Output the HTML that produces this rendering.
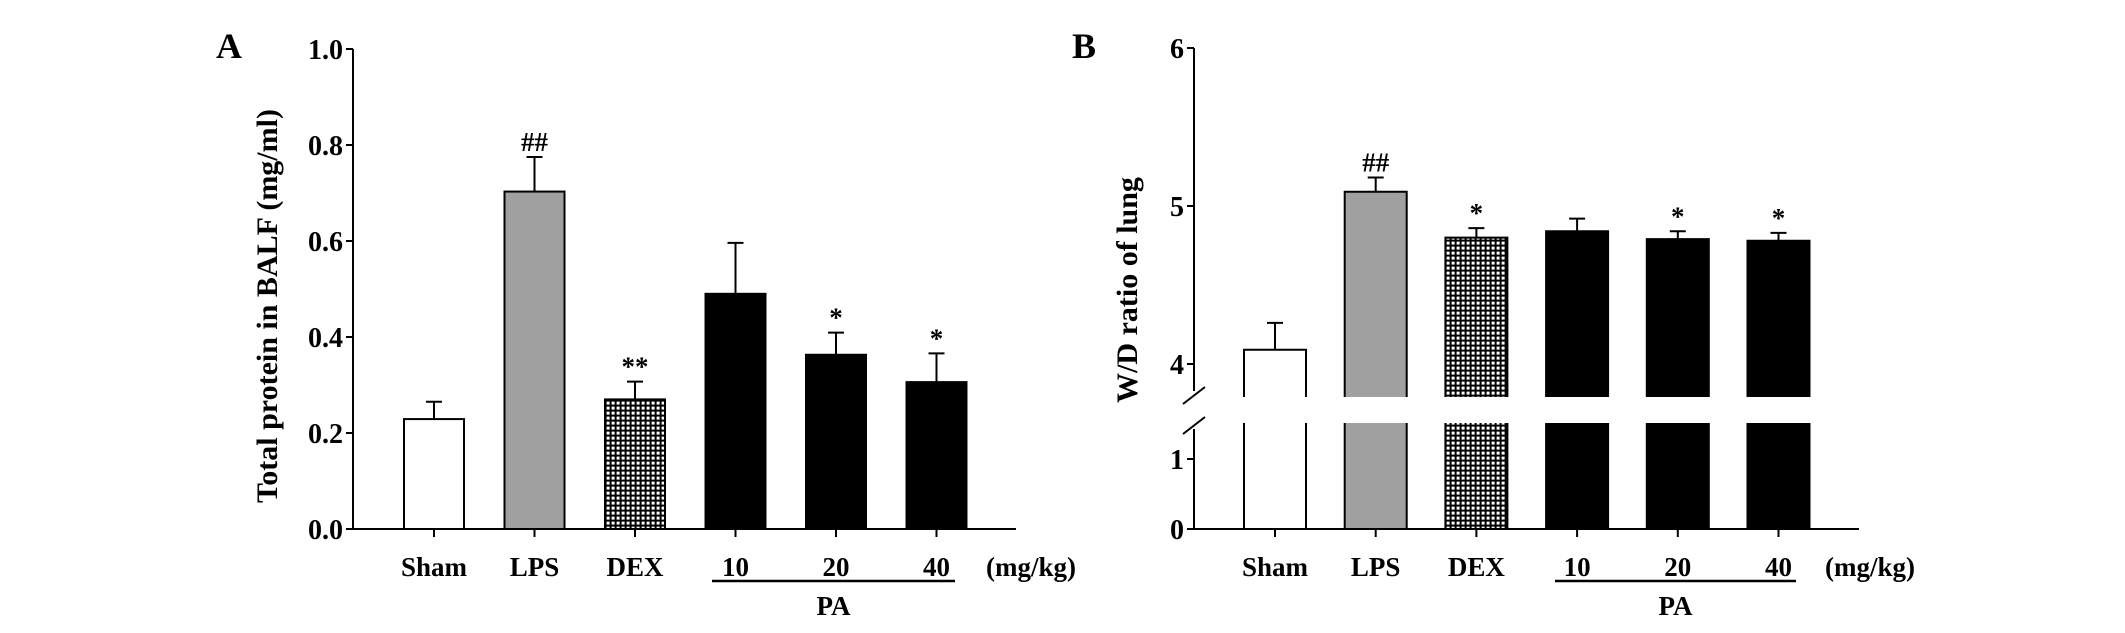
<!DOCTYPE html>
<html><head><meta charset="utf-8"><style>
html,body{margin:0;padding:0;background:#fff;}
svg text{font-family:"Liberation Serif",serif;font-weight:bold;fill:#000;}
</style></head><body>
<svg id="chart" width="2125" height="628" viewBox="0 0 2125 628" xmlns="http://www.w3.org/2000/svg">
<defs>
<pattern id="hatch" width="5" height="5" patternUnits="userSpaceOnUse">
<rect width="5" height="5" fill="#000"/><rect x="1.6" y="1.6" width="3" height="3" fill="#fff"/>
</pattern>
</defs>
<g id="gA"></g>
<g id="gB"></g>
</svg>
<script>
const categories = ["Sham","LPS","DEX","10","20","40"];
const proteinValues = [0.229,0.703,0.27,0.49,0.363,0.306];
const proteinErrors = [0.036,0.072,0.037,0.106,0.046,0.06];
const proteinMarks = ["","##","**","","*","*"];
const proteinTicks = ["0.0","0.2","0.4","0.6","0.8","1.0"];
const wdValues = [4.09,5.09,4.80,4.84,4.79,4.78];
const wdErrors = [0.17,0.09,0.06,0.08,0.05,0.05];
const wdMarks = ["","##","*","","*","*"];
const wdTicksUpper = ["4","5","6"];
const wdTicksLower = ["0","1"];
const fills = ["#fff","#a0a0a0","url(#hatch)","#000","#000","#000"];
const NS="http://www.w3.org/2000/svg";
function el(parent,tag,attrs,text){const e=document.createElementNS(NS,tag);for(const k in attrs)e.setAttribute(k,attrs[k]);if(text!==undefined)e.textContent=text;parent.appendChild(e);return e;}

function drawXAxis(g,ax,x0,x1,xc,unitsX,paL,paR){
  let e=el(g,'line',{x1:ax,y1:529,x2:x1,y2:529,stroke:'#000','stroke-width':2});
   
  categories.forEach((c,i)=>{
    const t=el(g,'line',{x1:xc(i),y1:529,x2:xc(i),y2:537,stroke:'#000','stroke-width':2});
     
    const l=el(g,'text',{x:xc(i),y:576,'text-anchor':'middle','font-size':27},c);
     
  });
  let u=el(g,'text',{x:unitsX,y:576,'text-anchor':'middle','font-size':27},'(mg/kg)');
   
  let pl=el(g,'line',{x1:paL,y1:581,x2:paR,y2:581,stroke:'#000','stroke-width':2.5});
   
  let pt=el(g,'text',{x:(paL+paR)/2,y:615,'text-anchor':'middle','font-size':27},'PA');
   
}

// Panel A
(function(){
  const g=document.getElementById('gA');
  const ax=353, yTop=49, yBot=529;
  const y=v=>yBot-(v/1.0)*(yBot-yTop);
  const xc=i=>434+i*100.5;
  const bw=60;
  let a=el(g,'line',{x1:ax,y1:yTop,x2:ax,y2:yBot+1,stroke:'#000','stroke-width':2});
   
  proteinTicks.forEach(t=>{
    const v=parseFloat(t);
    const tk=el(g,'line',{x1:ax-7,y1:y(v),x2:ax,y2:y(v),stroke:'#000','stroke-width':2});
     
    const tl=el(g,'text',{x:ax-10,y:y(v)+10,'text-anchor':'end','font-size':28},t);
     
  });
  let tt=el(g,'text',{x:0,y:0,'text-anchor':'middle','font-size':30,transform:'translate(277,306) rotate(-90)'},'Total protein in BALF (mg/ml)');
   
  let pa=el(g,'text',{x:216,y:58,'font-size':36},'A');
   
  proteinValues.forEach((v,i)=>{
    const top=y(v+proteinErrors[i]);
    const eb=el(g,'path',{d:`M${xc(i)},${y(v)}V${top}M${xc(i)-8},${top}H${xc(i)+8}`,stroke:'#000','stroke-width':2,fill:'none'});
     
    const b=el(g,'rect',{x:xc(i)-bw/2,y:y(v),width:bw,height:yBot-y(v),fill:fills[i],stroke:'#000','stroke-width':2});
     
    if(proteinMarks[i]){const m=el(g,'text',{x:xc(i),y:top-6,'text-anchor':'middle','font-size':27},proteinMarks[i]);
       }
  });
  drawXAxis(g,ax,ax,1016,xc,1031,712,955);
})();

// Panel B (broken axis)
(function(){
  const g=document.getElementById('gB');
  const ax=1194, yBot=529;
  const yU=v=>206-(v-5)*158;
  const yL=v=>yBot-v*70;
  const upperBreak=397, lowerBreak=423;
  const xc=i=>1275+i*100.7;
  const bw=62;
  let a1=el(g,'line',{x1:ax,y1:yU(6),x2:ax,y2:upperBreak-6,stroke:'#000','stroke-width':2});
   
  let a2=el(g,'line',{x1:ax,y1:lowerBreak+6,x2:ax,y2:yBot+1,stroke:'#000','stroke-width':2});
   
  let br=el(g,'path',{d:`M${ax-11},${upperBreak+7}L${ax+11},${upperBreak-10}M${ax-11},${lowerBreak+11}L${ax+11},${lowerBreak-6}`,stroke:'#000','stroke-width':2,fill:'none'});
   
  const ticks=[...wdTicksUpper.map(t=>[t,yU(+t)]),...wdTicksLower.map(t=>[t,yL(+t)])];
  ticks.forEach(([t,yy])=>{
    const tk=el(g,'line',{x1:ax-7,y1:yy,x2:ax,y2:yy,stroke:'#000','stroke-width':2});
     
    const tl=el(g,'text',{x:ax-10,y:yy+10,'text-anchor':'end','font-size':28},t);
     
  });
  let tt=el(g,'text',{x:0,y:0,'text-anchor':'middle','font-size':30,transform:'translate(1137,290) rotate(-90)'},'W/D ratio of lung');
   
  let pb=el(g,'text',{x:1072,y:58,'font-size':36},'B');
   
  wdValues.forEach((v,i)=>{
    const top=yU(v+wdErrors[i]);
    const eb=el(g,'path',{d:`M${xc(i)},${yU(v)}V${top}M${xc(i)-8},${top}H${xc(i)+8}`,stroke:'#000','stroke-width':2,fill:'none'});
     
    const x0=xc(i)-bw/2, x1=xc(i)+bw/2;
    const b1=el(g,'path',{d:`M${x0},${upperBreak}V${yU(v)}H${x1}V${upperBreak}Z`,fill:fills[i],stroke:'none'});
     
    const o1=el(g,'path',{d:`M${x0},${upperBreak}V${yU(v)}H${x1}V${upperBreak}`,fill:'none',stroke:'#000','stroke-width':2});
     
    const b2=el(g,'path',{d:`M${x0},${lowerBreak}V${yBot}H${x1}V${lowerBreak}`,fill:fills[i],stroke:'#000','stroke-width':2});
     
    if(wdMarks[i]){const m=el(g,'text',{x:xc(i),y:top-6,'text-anchor':'middle','font-size':27},wdMarks[i]);
       }
  });
  drawXAxis(g,ax,ax,1859,xc,1870,1555,1796);
})();
</script>
</body></html>
